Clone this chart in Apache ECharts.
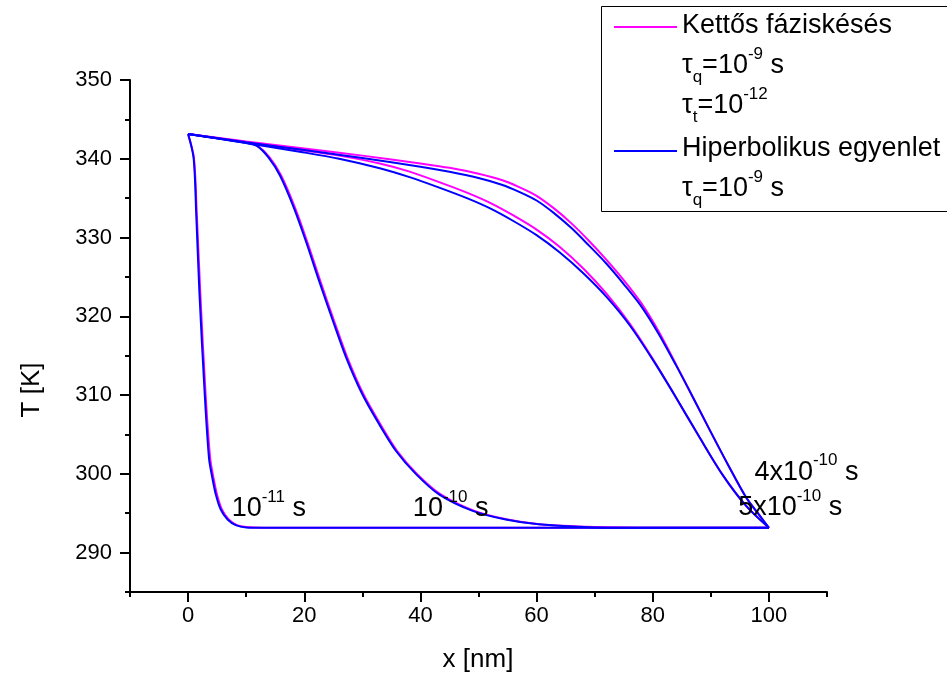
<!DOCTYPE html>
<html><head><meta charset="utf-8">
<script src="https://cdn.jsdelivr.net/npm/echarts@6/dist/echarts.min.js"></script>
<style>html,body{margin:0;padding:0;background:#fff}#c{width:947px;height:678px}</style>
</head><body><div id="c"></div>
<script>
const FONT = '"Liberation Sans", Arial, sans-serif';
const PINK = '#ff00ff';
const BLUE = '#0000ff';

// axis ticks
const xMajorTicks = [0, 20, 40, 60, 80, 100];
const xMinorTicks = [-10, 10, 30, 50, 70, 90, 110];
const yMajorTicks = [290, 300, 310, 320, 330, 340, 350];
const yMinorTicks = [285, 295, 305, 315, 325, 335, 345];

// t = 1e-11 s
const dpl_1e11 = [[0,343.15],[1.0,340.1],[1.5,333.0],[2.1,323.0],[3.0,310.3],[3.8,302.0],[4.4,299.4],[5.0,297.3],[5.8,295.5],[7.0,294.2],[8.4,293.5],[10,293.25],[13,293.15],[100,293.15]];
const hyp_1e11 = [[0,343.15],[0.95,340.1],[1.4,333.0],[1.95,323.0],[2.85,310.3],[3.6,302.0],[4.2,299.4],[4.8,297.3],[5.6,295.5],[6.8,294.2],[8.2,293.5],[10,293.2],[13,293.15],[100,293.15]];
// t = 1e-10 s
const dpl_1e10 = [[0,343.15],[5,342.65],[10,342.1],[12,341.6],[14,340.2],[16,337.9],[18.4,333.8],[20.5,329.5],[22.8,324.4],[25.1,319.5],[27.4,314.8],[30.2,310.1],[33.1,306.3],[36.0,302.9],[39.4,300.0],[43.5,297.4],[49.3,295.3],[55,294.2],[60.5,293.6],[70,293.25],[80,293.15],[100,293.15]];
const hyp_1e10 = [[0,343.15],[5,342.6],[10,342.0],[11.9,341.6],[13.8,340.2],[15.8,337.9],[18.2,333.8],[20.3,329.5],[22.6,324.4],[24.9,319.5],[27.2,314.8],[30.0,310.1],[32.9,306.3],[35.8,302.9],[39.2,300.0],[43.2,297.4],[49.0,295.3],[54.7,294.2],[60.3,293.6],[70,293.2],[80,293.15],[100,293.15]];
// t = 4e-10 s (inner pair)
const dpl_4e10 = [[0,343.15],[10,342.1],[20,341.05],[26,340.4],[33,339.4],[38,338.4],[43,337.1],[48,335.7],[52,334.4],[56,332.8],[60,331.0],[64,328.8],[68,326.1],[72,322.9],[76,319.1],[80,314.6],[84,309.7],[88,304.7],[92,299.9],[96,296.0],[100,293.15]];
const hyp_4e10 = [[0,343.15],[10,342.0],[20,340.8],[26,340.0],[33,338.8],[38,337.7],[43,336.4],[48,335.0],[52,333.7],[56,332.1],[60,330.3],[64,328.1],[68,325.5],[72,322.5],[76,318.9],[80,314.5],[84,309.7],[88,304.7],[92,299.9],[96,296.0],[100,293.15]];
// t = 5e-10 s (outer pair)
const dpl_5e10 = [[0,343.15],[10,342.2],[20,341.3],[30,340.4],[40,339.4],[45,338.85],[50,338.1],[54,337.3],[57,336.4],[60,335.3],[63,333.7],[66,331.8],[69,329.6],[72,327.2],[75,324.6],[78,321.7],[81,318.1],[84,313.9],[87,309.6],[90,305.3],[93,301.1],[96,297.1],[98,295.1],[100,293.15]];
const hyp_5e10 = [[0,343.15],[10,342.1],[20,341.1],[30,340.1],[40,339.0],[45,338.35],[50,337.55],[54,336.7],[57,335.8],[60,334.7],[63,333.1],[66,331.2],[69,329.0],[72,326.7],[75,324.1],[78,321.3],[81,317.8],[84,313.8],[87,309.6],[90,305.3],[93,301.1],[96,297.1],[98,295.1],[100,293.15]];

// curve annotations: [x, T, mantissa, exponent]
const annotations = [
  [7.5, 295.6, '10', '-11'],
  [38.7, 295.6, '10', '-10'],
  [97.5, 300.2, '4x10', '-10'],
  [94.7, 295.7, '5x10', '-10']
];

const rich = {
  n: {fontSize: 27, lineHeight: 40, fontFamily: FONT, color: '#000'},
  sup: {fontSize: 17, lineHeight: 24, verticalAlign: 'top', fontFamily: FONT, color: '#000'},
  sub: {fontSize: 17, lineHeight: 14, verticalAlign: 'bottom', fontFamily: FONT, color: '#000'}
};

function lineSeries(name, data, color) {
  return {
    name: name, type: 'line', data: data, showSymbol: false, symbol: 'none',
    smooth: 0.3,
    lineStyle: {color: color, width: 2}, itemStyle: {color: color},
    xAxisIndex: 0, yAxisIndex: 0, silent: true, z: color === BLUE ? 3 : 2
  };
}

const chart = echarts.init(document.getElementById('c'));
chart.setOption({
  animation: false,
  backgroundColor: '#fff',
  grid: {left: 130, right: 120, top: 80, bottom: 86, containLabel: false},
  xAxis: [
    {type: 'value', min: -10, max: 110, position: 'bottom',
     axisLine: {show: true, onZero: false, lineStyle: {color: '#000', width: 2}},
     axisTick: {show: true, length: 10, customValues: xMajorTicks, lineStyle: {color: '#000', width: 2}},
     axisLabel: {customValues: xMajorTicks, fontSize: 22, fontFamily: FONT, color: '#000', margin: 13},
     splitLine: {show: false}},
    {type: 'value', min: -10, max: 110, position: 'bottom',
     axisLine: {show: false, onZero: false},
     axisTick: {show: true, length: 5, customValues: xMinorTicks, lineStyle: {color: '#000', width: 2}},
     axisLabel: {show: false}, splitLine: {show: false}}
  ],
  yAxis: [
    {type: 'value', min: 285, max: 350, position: 'left',
     axisLine: {show: true, onZero: false, lineStyle: {color: '#000', width: 2}},
     axisTick: {show: true, length: 10, customValues: yMajorTicks, lineStyle: {color: '#000', width: 2}},
     axisLabel: {customValues: yMajorTicks, fontSize: 22, fontFamily: FONT, color: '#000', margin: 18},
     splitLine: {show: false}},
    {type: 'value', min: 285, max: 350, position: 'left', offset: 0,
     axisLine: {show: false, onZero: false},
     axisTick: {show: true, length: 5, customValues: yMinorTicks, lineStyle: {color: '#000', width: 2}},
     axisLabel: {show: false}, splitLine: {show: false}}
  ],
  series: [
    lineSeries('Kettős fáziskésés', dpl_1e11, PINK),
    lineSeries('Hiperbolikus egyenlet', hyp_1e11, BLUE),
    lineSeries('Kettős fáziskésés', dpl_1e10, PINK),
    lineSeries('Hiperbolikus egyenlet', hyp_1e10, BLUE),
    lineSeries('Kettős fáziskésés', dpl_4e10, PINK),
    lineSeries('Hiperbolikus egyenlet', hyp_4e10, BLUE),
    lineSeries('Kettős fáziskésés', dpl_5e10, PINK),
    lineSeries('Hiperbolikus egyenlet', hyp_5e10, BLUE)
  ],
  graphic: [
    {id: 'ytitle', type: 'text', x: 32, y: 390, rotation: Math.PI / 2,
     style: {text: 'T [K]', font: '26px ' + FONT, fill: '#000', align: 'center', verticalAlign: 'middle'}},
    {id: 'xtitle', type: 'text', x: 478, y: 660,
     style: {text: 'x [nm]', font: '26px ' + FONT, fill: '#000', align: 'center', verticalAlign: 'middle'}},
    {id: 'lgbox', type: 'rect', shape: {x: 601.5, y: 6.5, width: 400, height: 205},
     style: {fill: '#fff', stroke: '#000', lineWidth: 1}, z: 10},
    {id: 'lgl1', type: 'line', shape: {x1: 614, y1: 27, x2: 677, y2: 27}, style: {stroke: PINK, lineWidth: 2}, z: 11},
    {id: 'lgl2', type: 'line', shape: {x1: 614, y1: 151, x2: 677, y2: 151}, style: {stroke: BLUE, lineWidth: 2}, z: 11},
    {id: 'lgt1', type: 'text', x: 682, y: 26, z: 11,
     style: {text: '{n|Kettős fáziskésés}', rich: rich, align: 'left', verticalAlign: 'middle'}},
    {id: 'lgt2', type: 'text', x: 682, y: 66, z: 11,
     style: {text: '{n|τ}{sub|q}{n|=10}{sup|-9}{n| s}', rich: rich, align: 'left', verticalAlign: 'middle'}},
    {id: 'lgt3', type: 'text', x: 682, y: 106, z: 11,
     style: {text: '{n|τ}{sub|t}{n|=10}{sup|-12}', rich: rich, align: 'left', verticalAlign: 'middle'}},
    {id: 'lgt4', type: 'text', x: 682, y: 149, z: 11,
     style: {text: '{n|Hiperbolikus egyenlet}', rich: rich, align: 'left', verticalAlign: 'middle'}},
    {id: 'lgt5', type: 'text', x: 682, y: 189, z: 11,
     style: {text: '{n|τ}{sub|q}{n|=10}{sup|-9}{n| s}', rich: rich, align: 'left', verticalAlign: 'middle'}}
  ]
});

// place curve annotations at their data coordinates
chart.setOption({
  graphic: annotations.map((a, i) => {
    const p = chart.convertToPixel({xAxisIndex: 0, yAxisIndex: 0}, [a[0], a[1]]);
    return {id: 'ann' + i, type: 'text', x: p[0], y: p[1], z: 12,
            style: {text: '{n|' + a[2] + '}{sup|' + a[3] + '}{n| s}', rich: rich,
                    align: 'left', verticalAlign: 'middle', fill: '#000'}};
  })
});
</script>
</body></html>
